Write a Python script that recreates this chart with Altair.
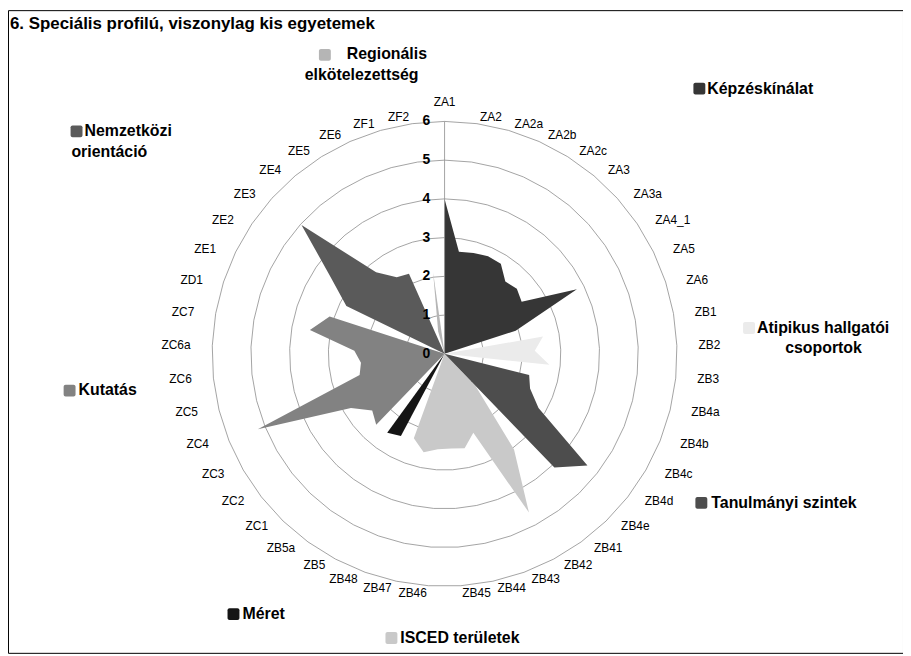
import altair as alt
import pandas as pd

# ---------------- data ----------------
categories = ["ZA1", "ZA2", "ZA2a", "ZA2b", "ZA2c", "ZA3", "ZA3a", "ZA4_1", "ZA5", "ZA6",
              "ZB1", "ZB2", "ZB3", "ZB4a", "ZB4b", "ZB4c", "ZB4d", "ZB4e",
              "ZB41", "ZB42", "ZB43", "ZB44", "ZB45", "ZB46", "ZB47", "ZB48", "ZB5", "ZB5a",
              "ZC1", "ZC2", "ZC3", "ZC4", "ZC5", "ZC6", "ZC6a", "ZC7", "ZD1",
              "ZE1", "ZE2", "ZE3", "ZE4", "ZE5", "ZE6", "ZF1", "ZF2"]

series_names = ["Képzéskínálat", "Atipikus hallgatói csoportok", "ISCED területek",
                "Tanulmányi szintek", "Méret", "Kutatás", "Nemzetközi orientáció",
                "Regionális elkötelezettség"]
series_colors = ["#363636", "#ebebeb", "#c9c9c9", "#4d4d4d", "#151515", "#828282",
                 "#5a5a5a", "#b5b5b5"]

kepzes_cats = ["ZA1", "ZA2", "ZA2a", "ZA2b", "ZA2c", "ZA3", "ZA3a", "ZA4_1", "ZA5", "ZA6"]
kepzes_vals = [4.0, 2.66, 2.71, 2.76, 2.74, 2.44, 2.51, 2.40, 3.80, 1.93]

atipikus_cats = ["ZB1", "ZB2", "ZB3"]
atipikus_vals = [2.58, 2.33, 2.72]

isced_cats = ["ZB4e", "ZB41", "ZB42", "ZB43", "ZB44", "ZB45", "ZB46", "ZB47", "ZB48"]
isced_vals = [1.15, 3.05, 4.64, 2.17, 2.49, 2.45, 2.47, 2.60, 2.32]

szintek_cats = ["ZB4a", "ZB4b", "ZB4c", "ZB4d", "ZB4e"]
szintek_vals = [2.25, 2.38, 2.80, 4.68, 4.08]

meret_cats = ["ZB5", "ZB5a"]
meret_vals = [2.40, 2.52]

kutatas_cats = ["ZC1", "ZC2", "ZC3", "ZC4", "ZC5", "ZC6", "ZC6a", "ZC7", "ZD1"]
kutatas_vals = [2.54, 2.37, 2.79, 5.20, 2.26, 2.17, 2.33, 3.53, 3.12]

nemzetkozi_cats = ["ZE1", "ZE2", "ZE3", "ZE4", "ZE5", "ZE6"]
nemzetkozi_vals = [2.82, 3.55, 4.97, 2.75, 2.33, 2.26]

regionalis_cats = ["ZF1", "ZF2"]
regionalis_vals = [0.6, 2.13]

levels = [0, 1, 2, 3, 4, 5, 6]

title_text = "6. Speciális profilú, viszonylag kis egyetemek"

series_cats = [kepzes_cats, atipikus_cats, isced_cats, szintek_cats, meret_cats,
               kutatas_cats, nemzetkozi_cats, regionalis_cats]
series_vals = [kepzes_vals, atipikus_vals, isced_vals, szintek_vals, meret_vals,
               kutatas_vals, nemzetkozi_vals, regionalis_vals]

N = len(categories)
rows = []
for s, cats, vals in zip(series_names, series_cats, series_vals):
    lookup = dict(zip(cats, vals))
    for k in range(N + 1):
        c = categories[k % N]
        rows.append({"series": s, "i": k, "cat": c, "v": lookup.get(c, 0.0)})
poly_df = pd.DataFrame(rows)

grid_df = pd.DataFrame([{"level": L, "i": k, "v": L}
                        for L in levels[1:] for k in range(N + 1)])
cat_df = pd.DataFrame({"cat": categories, "i": list(range(N))})
lev_df = pd.DataFrame({"lev": levels})

# ---------------- layout ----------------
FONT = "Liberation Sans"
UNIT = 39.0
W, H = 901, 647
CX, CY = 439.5, 346.0
xs = alt.Scale(domain=[-CX / UNIT, (W - CX) / UNIT], nice=False, zero=False)
ys = alt.Scale(domain=[-(H - CY) / UNIT, CY / UNIT], nice=False, zero=False)
TH = f"datum.i * 2 * PI / {N}"

def X(f):
    return alt.X(f, type="quantitative", scale=xs, axis=None)

def Y(f):
    return alt.Y(f, type="quantitative", scale=ys, axis=None)

layers = []

# grid polygons
grid = (alt.Chart(grid_df)
        .transform_calculate(th=TH)
        .transform_calculate(px="datum.v * sin(datum.th)", py="datum.v * cos(datum.th)")
        .mark_line(stroke="#8c8c8c", strokeWidth=0.8)
        .encode(x=X("px"), y=Y("py"), detail="level:N", order="i:Q"))
layers.append(grid)

# filled radar series
for s, col in zip(series_names, series_colors):
    poly = (alt.Chart(poly_df)
            .transform_filter(alt.datum.series == s)
            .transform_calculate(th=TH)
            .transform_calculate(px="datum.v * sin(datum.th)", py="datum.v * cos(datum.th)")
            .mark_line(filled=True, color=col, opacity=1)
            .encode(x=X("px"), y=Y("py"), order="i:Q"))
    layers.append(poly)

# value axis line and labels
axis_line = (alt.Chart(lev_df)
             .transform_aggregate(lo="min(lev)", hi="max(lev)")
             .transform_calculate(zero="0")
             .mark_rule(stroke="#8c8c8c", strokeWidth=0.8)
             .encode(x=X("zero"), y=Y("lo"), y2="hi:Q"))
layers.append(axis_line)

axis_lab = (alt.Chart(lev_df)
            .transform_calculate(ax="-0.37")
            .mark_text(align="right", baseline="middle", fontWeight="bold",
                       fontSize=14, font=FONT, color="black")
            .encode(x=X("ax"), y=Y("lev"), text="lev:Q"))
layers.append(axis_lab)

# category labels
cat_base = (alt.Chart(cat_df)
            .transform_calculate(th=TH)
            .transform_calculate(sn="sin(datum.th)", cs="cos(datum.th)")
            .transform_calculate(lx="6.56 * datum.sn",
                                 ly="datum.i == 0 ? 6.5 : 6.18 * datum.cs"))
for cond, al in [("datum.sn > 0.01", "left"), ("datum.sn < -0.01", "right"),
                 ("abs(datum.sn) <= 0.01", "center")]:
    layers.append(cat_base.transform_filter(cond)
                  .mark_text(align=al, baseline="middle", fontSize=12, font=FONT,
                             color="black")
                  .encode(x=X("lx"), y=Y("ly"), text="cat:N"))

# title (page coords minus 8px margin)
layers.append(alt.Chart(pd.DataFrame({"t": [title_text]}))
              .mark_text(align="left", baseline="middle", fontSize=17,
                         fontWeight="bold", font=FONT, color="black")
              .encode(x=alt.value(2), y=alt.value(14), text="t:N"))

# legend entries placed around the chart (page coords -> view coords)
LEGEND_LAYOUT = {
    "Regionális elkötelezettség": dict(sq=(313, 39), split=1,
                                       lines=[(341, 44, "left"), (356, 65, "center")]),
    "Képzéskínálat": dict(sq=(690, 73), split=1, lines=[(704, 79, "left")]),
    "Nemzetközi orientáció": dict(sq=(63, 116), split=1,
                                  lines=[(77, 122, "left"), (102, 143, "center")]),
    "Atipikus hallgatói csoportok": dict(sq=(740, 314), split=2,
                                         lines=[(754, 320, "left"), (821, 340, "center")]),
    "Kutatás": dict(sq=(56, 377), split=1, lines=[(71, 382, "left")]),
    "Tanulmányi szintek": dict(sq=(692, 490), split=2, lines=[(708, 496, "left")]),
    "Méret": dict(sq=(221, 602), split=1, lines=[(236, 608, "left")]),
    "ISCED területek": dict(sq=(380, 626), split=2, lines=[(395, 632, "left")]),
}
SQ = 12
for s, col in zip(series_names, series_colors):
    lay = LEGEND_LAYOUT[s]
    words = s.split(" ")
    parts = [" ".join(words[:lay["split"]]), " ".join(words[lay["split"]:])]
    parts = [p for p in parts if p]
    sx, sy = lay["sq"]
    layers.append(alt.Chart(pd.DataFrame({"series": [s]}))
                  .mark_rect(color=col, cornerRadius=2)
                  .encode(x=alt.value(sx), x2=alt.value(sx + SQ),
                          y=alt.value(sy), y2=alt.value(sy + SQ)))
    for txt, (lx, ly, al) in zip(parts, lay["lines"]):
        layers.append(alt.Chart(pd.DataFrame({"t": [txt]}))
                      .mark_text(align=al, baseline="middle", fontSize=16,
                                 fontWeight="bold", font=FONT, color="black")
                      .encode(x=alt.value(lx), y=alt.value(ly), text="t:N"))

chart = (alt.layer(*layers)
         .properties(width=W, height=H, padding=0, autosize="none", background="white")
         .configure_view(stroke="black", strokeWidth=1))

chart.save("out.html", embed_options={"renderer": "svg", "actions": False})
